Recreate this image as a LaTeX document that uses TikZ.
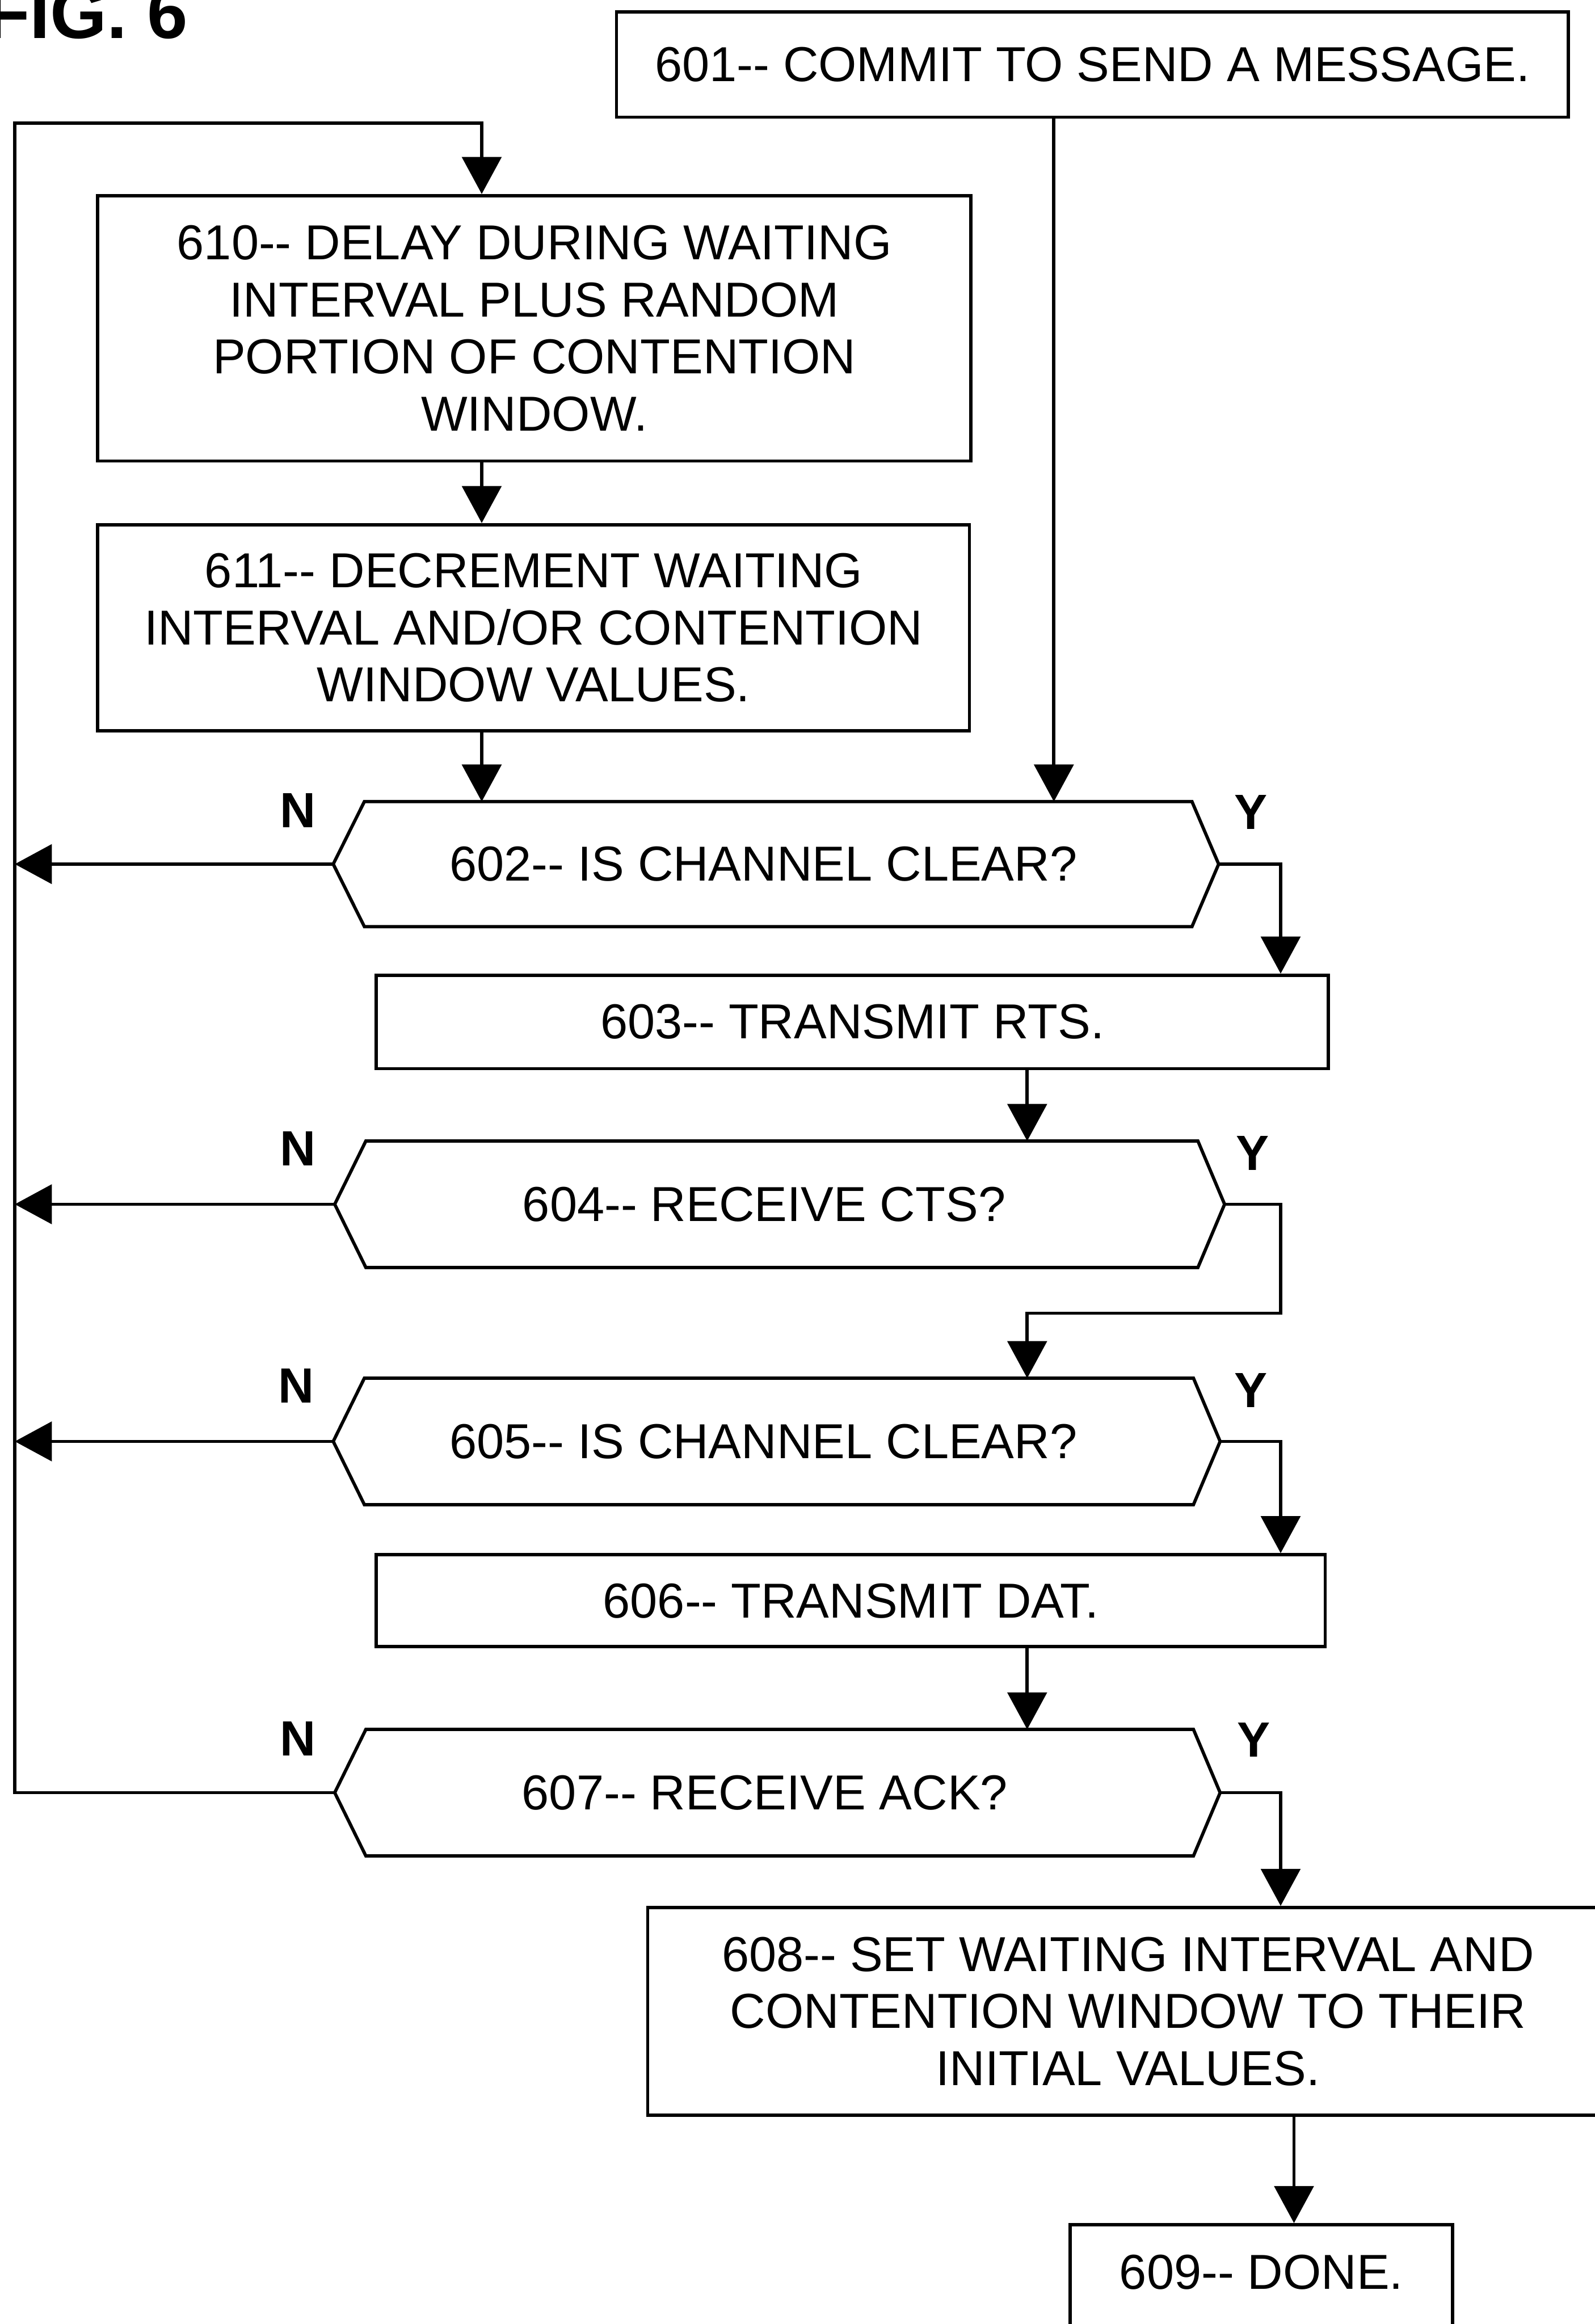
\documentclass[tikz,border=0pt]{standalone}
\usepackage{fontspec}
\setmainfont{Liberation Sans}
\usetikzlibrary{arrows.meta,calc,fit}
\newcommand{\mainfs}{\fontsize{37.7}{43.8}\selectfont}
\newcommand{\ynfs}{\fontsize{38}{44}\selectfont\bfseries}
\newcommand{\figfs}{\fontsize{56}{60}\selectfont\bfseries}
\newcommand{\dd}{-{}-}
\newcommand{\hexdraw}[1]{%
  \draw[line] (#1.west) -- ($(#1.north west)+(21,0)$) -- ($(#1.north east)+(-18,0)$)
    -- (#1.east) -- ($(#1.south east)+(-18,0)$) -- ($(#1.south west)+(21,0)$) -- cycle;}
\begin{document}
\begin{tikzpicture}[x=0.04cm,y=-0.04cm,
  line/.style={line width=2.5pt, line join=miter},
  arr/.style={line, -{Triangle[length=1.0cm,width=1.06cm]}},
  box/.style={draw, line width=2.5pt, inner sep=0pt, align=center, font=\mainfs},
  hexframe/.style={inner sep=0pt},
  txt/.style={inner sep=0pt, align=center, font=\mainfs},
  yn/.style={inner sep=0pt, font=\ynfs}]
\useasboundingbox (0,0) rectangle (1076,1568);

% title
\node[anchor=base east, inner sep=0pt, font=\figfs] (fig) at (127,25.7) {FIG. 6};

% process boxes
\node[box, minimum width=25.68cm, minimum height=2.84cm] (b601) at (737,43.5) {601\dd{} COMMIT TO SEND A MESSAGE.};
\node[box, minimum width=23.56cm, minimum height=7.16cm] (b610) at (360.5,221.5) {610\dd{} DELAY DURING WAITING\\INTERVAL PLUS RANDOM\\PORTION OF CONTENTION\\WINDOW.};
\node[box, minimum width=23.52cm, minimum height=5.56cm] (b611) at (360,423.5) {611\dd{} DECREMENT WAITING\\INTERVAL AND/OR CONTENTION\\WINDOW VALUES.};
\node[box, minimum width=25.68cm, minimum height=2.52cm] (b603) at (575,689.5) {603\dd{} TRANSMIT RTS.};
\node[box, minimum width=25.6cm, minimum height=2.48cm] (b606) at (574,1080) {606\dd{} TRANSMIT DAT.};
\node[box, minimum width=25.92cm, minimum height=5.6cm] (b608) at (761,1357) {608\dd{} SET WAITING INTERVAL AND\\CONTENTION WINDOW TO THEIR\\INITIAL VALUES.};
\node[box, minimum width=10.32cm, minimum height=3.16cm, text depth=0.6cm] (b609) at (851,1540.5) {609\dd{} DONE.};

% decisions
\node[hexframe, fit={(225,541)(822,625)}] (d602) {};
\node[hexframe, fit={(226,770)(826,855)}] (d604) {};
\node[hexframe, fit={(225,930)(823,1015)}] (d605) {};
\node[hexframe, fit={(226,1167)(823,1252)}] (d607) {};
\hexdraw{d602}
\hexdraw{d604}
\hexdraw{d605}
\hexdraw{d607}
\node[txt] (t602) at (515,583) {602\dd{} IS CHANNEL CLEAR?};
\node[txt] (t604) at (515.5,812.5) {604\dd{} RECEIVE CTS?};
\node[txt] (t605) at (515,972.5) {605\dd{} IS CHANNEL CLEAR?};
\node[txt] (t607) at (516,1209.5) {607\dd{} RECEIVE ACK?};

% Y / N labels
\node[yn] (n602) at (201,547) {N};
\node[yn] (y602) at (844,548) {Y};
\node[yn] (n604) at (201,775) {N};
\node[yn] (y604) at (845,778) {Y};
\node[yn] (n605) at (200,935) {N};
\node[yn] (y605) at (844,938) {Y};
\node[yn] (n607) at (201,1173) {N};
\node[yn] (y607) at (846,1174) {Y};

% routing coordinates
\coordinate (L) at (10,83);
\coordinate (T) at (325,83);
\coordinate (xA) at (711,0);
\coordinate (xB) at (693,0);
\coordinate (xY) at (864,0);
\coordinate (xD) at (873,0);
\coordinate (J1) at (864,886);
\coordinate (J2) at (693,886);

% connectors
\draw[arr] (d607.west) -- (d607.west -| L) -- (L) -- (T) -- (T |- b610.north);
\draw[arr] (d602.west) -- (d602.west -| L);
\draw[arr] (d604.west) -- (d604.west -| L);
\draw[arr] (d605.west) -- (d605.west -| L);
\draw[arr] (T |- b610.south) -- (T |- b611.north);
\draw[arr] (T |- b611.south) -- (T |- d602.north);
\draw[arr] (xA |- b601.south) -- (xA |- d602.north);
\draw[arr] (d602.east) -| (xY |- b603.north);
\draw[arr] (xB |- b603.south) -- (xB |- d604.north);
\draw[arr] (d604.east) -| (J1) -- (J2) -- (J2 |- d605.north);
\draw[arr] (d605.east) -| (xY |- b606.north);
\draw[arr] (xB |- b606.south) -- (xB |- d607.north);
\draw[arr] (d607.east) -| (xY |- b608.north);
\draw[arr] (xD |- b608.south) -- (xD |- b609.north);
\end{tikzpicture}
\end{document}
